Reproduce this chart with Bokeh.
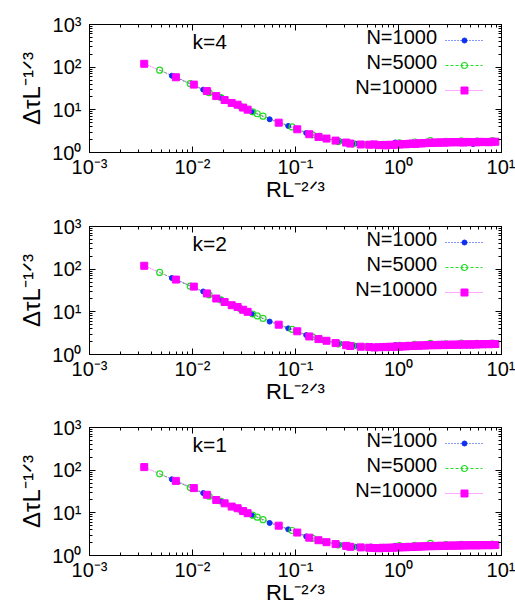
import math
from bokeh.plotting import figure
from bokeh.models import Label, FixedTicker, LogAxis
from bokeh.layouts import column
from bokeh.embed import file_html
from bokeh.resources import INLINE

FONT = "Liberation Sans"

panel_labels = ["k=4", "k=2", "k=1"]
series_names = ["N=1000", "N=5000", "N=10000"]
x_tick_exps = [-3, -2, -1, 0, 1]
y_tick_exps = [0, 1, 2, 3]
x_axis_title = "RL\u207b\u00b2\u141f\u00b3"
y_axis_title = "\u0394\u03c4L\u207b\u00b9\u141f\u00b3"

# N=1000 (blue)
x_n1000 = [0.0063, 0.0127, 0.0192, 0.0253, 0.0379, 0.0561, 0.0850, 0.127, 0.190, 0.269,
           0.38, 0.54, 0.76, 0.93, 1.32, 1.87, 2.65, 3.75, 5.3, 7.5]
y_n1000_k4 = [63, 29.7, 18.9, 14.0, 8.9, 6.0, 4.2, 2.87, 2.17, 1.84,
              1.62, 1.52, 1.50, 1.72, 1.62, 1.66, 1.70, 1.74, 1.58, 1.72]
y_n1000_k2 = [62, 30.0, 19.0, 14.2, 8.8, 5.9, 4.1, 2.85, 2.15, 1.80,
              1.60, 1.50, 1.52, 1.66, 1.60, 1.64, 1.80, 1.70, 1.62, 1.70]
y_n1000_k1 = [61, 29.0, 18.5, 13.8, 8.7, 5.8, 4.1, 2.80, 2.10, 1.78,
              1.60, 1.62, 1.50, 1.68, 1.62, 1.66, 1.72, 1.70, 1.66, 1.72]

# N=5000 (green)
x_n5000 = [0.0048, 0.0095, 0.0145, 0.0190, 0.0290, 0.0385, 0.0425, 0.0484, 0.0927, 0.146, 0.171,
           0.26, 0.36, 0.50, 0.72, 1.02, 1.44, 2.04, 2.88, 4.08, 5.77, 8.15]
y_n5000_k4 = [85, 41, 25.3, 19.3, 12.2, 9.0, 8.1, 7.1, 3.97, 2.6, 2.4,
              1.80, 1.60, 1.54, 1.55, 1.68, 1.76, 1.90, 1.82, 1.88, 1.84, 1.90]
y_n5000_k2 = [84, 40, 25.0, 19.0, 12.0, 8.9, 8.0, 7.0, 3.9, 2.6, 2.35,
              1.78, 1.62, 1.56, 1.55, 1.64, 1.74, 1.82, 1.78, 1.84, 1.82, 1.86]
y_n5000_k1 = [82, 39, 24.5, 18.7, 11.9, 8.8, 7.9, 6.9, 3.85, 2.55, 2.3,
              1.76, 1.58, 1.52, 1.56, 1.70, 1.74, 1.92, 1.80, 1.82, 1.80, 1.84]

# N=10000 (magenta)
x_n10000 = [0.0034, 0.0069, 0.0103, 0.0138, 0.0170, 0.0205, 0.0240, 0.0274, 0.0310, 0.0343,
            0.0687, 0.104, 0.136, 0.167, 0.200, 0.245, 0.31, 0.34, 0.43, 0.52,
            0.58, 0.64, 0.70, 0.76, 0.82, 0.88, 0.95, 1.02, 1.10, 1.18,
            1.27, 1.36, 1.46, 1.57, 1.69, 1.81, 1.95, 2.09, 2.25, 2.41,
            2.59, 2.78, 2.99, 3.21, 3.45, 3.70, 3.98, 4.27, 4.59, 4.93,
            5.29, 5.68, 6.10, 6.55, 7.04, 7.56, 8.12, 8.72]
y_n10000_k4 = [120, 58, 39, 27.5, 21.0, 17.0, 14.5, 13.2, 11.3, 10.1,
               5.0, 3.5, 2.68, 2.32, 2.12, 1.90, 1.71, 1.62, 1.54, 1.52,
               1.55, 1.49, 1.50, 1.47, 1.52, 1.50, 1.55, 1.53, 1.58, 1.56,
               1.60, 1.62, 1.59, 1.65, 1.63, 1.66, 1.70, 1.67, 1.72, 1.69,
               1.73, 1.70, 1.74, 1.72, 1.76, 1.73, 1.75, 1.71, 1.77, 1.74,
               1.76, 1.73, 1.78, 1.75, 1.77, 1.74, 1.78, 1.79]
y_n10000_k2 = [120, 57, 39, 27.0, 20.5, 17.0, 14.3, 13.0, 11.2, 10.0,
               5.0, 3.5, 2.65, 2.30, 2.10, 1.85, 1.65, 1.58, 1.52, 1.50,
               1.46, 1.48, 1.50, 1.49, 1.52, 1.51, 1.54, 1.52, 1.56, 1.55,
               1.60, 1.58, 1.62, 1.60, 1.64, 1.62, 1.66, 1.64, 1.68, 1.65,
               1.69, 1.66, 1.70, 1.68, 1.71, 1.69, 1.72, 1.70, 1.73, 1.70,
               1.74, 1.71, 1.75, 1.73, 1.76, 1.74, 1.77, 1.76]
y_n10000_k1 = [118, 56, 38, 26.5, 20.0, 16.7, 14.0, 12.8, 11.0, 9.8,
               5.0, 3.45, 2.62, 2.28, 2.05, 1.85, 1.68, 1.60, 1.55, 1.52,
               1.50, 1.48, 1.52, 1.50, 1.53, 1.52, 1.55, 1.54, 1.57, 1.56,
               1.60, 1.58, 1.62, 1.61, 1.64, 1.63, 1.66, 1.65, 1.68, 1.66,
               1.70, 1.67, 1.71, 1.69, 1.72, 1.70, 1.73, 1.71, 1.74, 1.72,
               1.75, 1.72, 1.75, 1.73, 1.76, 1.74, 1.75, 1.76]

panel_data = [
    (y_n1000_k4, y_n5000_k4, y_n10000_k4),
    (y_n1000_k2, y_n5000_k2, y_n10000_k2),
    (y_n1000_k1, y_n5000_k1, y_n10000_k1),
]
x_series = [x_n1000, x_n5000, x_n10000]

colors = ["#1030f0", "#22dd22", "#ff00ff"]
line_colors = ["#1030f0", "#22dd22", "#ff55ff"]
dashes = ["1 2", "3 2", "1 1"]

SUP = {"-": "\u207b", "0": "\u2070", "1": "\u00b9", "2": "\u00b2", "3": "\u00b3"}


def pow10_label(e):
    return "10" + "".join(SUP[c] for c in str(e))


# layout (pixels)
LEFT, RIGHT = 89, 14
FRAME_W, FRAME_H = 412, 128
tops = [24, 22, 21]
bottoms = [52, 52, 55]
BFIX = 7  # baseline correction (px)

XMIN_E, XMAX_E = -3, 1
YMIN_E, YMAX_E = 0, 3


def px_to_x(px):
    return 10 ** (XMIN_E + (XMAX_E - XMIN_E) * px / FRAME_W)


def px_to_y(py_from_top):
    return 10 ** (YMAX_E - (YMAX_E - YMIN_E) * py_from_top / FRAME_H)


def add_text(p, text, x, y, size, align="left"):
    p.add_layout(Label(x=x, y=y, x_units="screen", y_units="screen", text=text,
                       text_font=FONT, text_font_size=f"{size}px",
                       text_align=align, text_baseline="alphabetic",
                       text_color="black"))


x_major = [10.0 ** e for e in x_tick_exps]
x_minor = [m * 10.0 ** e for e in x_tick_exps[:-1] for m in range(2, 10)]
y_major = [10.0 ** e for e in y_tick_exps]
y_minor = [m * 10.0 ** e for e in y_tick_exps[:-1] for m in range(2, 10)]


def style_axis(ax, major, minor, exps=None):
    ax.ticker = FixedTicker(ticks=major, minor_ticks=minor)
    ax.major_tick_in = 6
    ax.major_tick_out = 0
    ax.minor_tick_in = 3
    ax.minor_tick_out = 0
    ax.axis_line_color = "black"
    ax.major_tick_line_color = "black"
    ax.minor_tick_line_color = "black"
    if exps is None:
        ax.major_label_overrides = {v: "" for v in major}
        ax.major_label_text_font_size = "0px"
    else:
        ax.major_label_overrides = {v: pow10_label(e) for v, e in zip(major, exps)}
        ax.major_label_text_font = FONT
        ax.major_label_text_font_size = "20px"
        ax.major_label_text_color = "black"


figs = []
for i in range(3):
    p = figure(frame_width=FRAME_W, frame_height=FRAME_H,
               x_axis_type="log", y_axis_type="log",
               x_range=(10.0 ** XMIN_E, 10.0 ** XMAX_E),
               y_range=(10.0 ** YMIN_E, 10.0 ** YMAX_E),
               min_border_left=LEFT, min_border_right=RIGHT,
               min_border_top=tops[i], min_border_bottom=bottoms[i],
               output_backend="svg", toolbar_location=None)
    p.grid.visible = False
    p.outline_line_color = "black"
    p.background_fill_color = "white"
    p.border_fill_color = "white"
    xa = p.xaxis[0]
    ya = p.yaxis[0]
    style_axis(xa, x_major, x_minor, x_tick_exps)
    style_axis(ya, y_major, y_minor, y_tick_exps)
    xa.major_label_standoff = 3
    ya.major_label_standoff = 8
    xa.axis_label = x_axis_title
    ya.axis_label = y_axis_title
    for ax, fs in ((xa, "22px"), (ya, "24px")):
        ax.axis_label_text_font = FONT
        ax.axis_label_text_font_size = fs
        ax.axis_label_text_font_style = "normal"
        ax.axis_label_text_color = "black"
    xa.axis_label_standoff = -4
    ya.axis_label_standoff = 4
    top_ax = LogAxis()
    right_ax = LogAxis()
    style_axis(top_ax, x_major, x_minor)
    style_axis(right_ax, y_major, y_minor)
    p.add_layout(top_ax, "above")
    p.add_layout(right_ax, "right")

    ys = panel_data[i]
    for s in range(3):
        p.line(x_series[s], ys[s], line_color=line_colors[s], line_dash=dashes[s],
               line_width=1)
    p.scatter(x_series[0], ys[0], marker="circle", size=5, fill_color=colors[0],
              line_color=colors[0])
    p.scatter(x_series[1], ys[1], marker="circle", size=6, fill_color=None,
              line_color=colors[1], line_width=1.2)
    p.scatter(x_series[2], ys[2], marker="square", size=7, fill_color=colors[2],
              line_color=colors[2])

    # panel label
    add_text(p, panel_labels[i], 103, FRAME_H - 24 + BFIX, 21)

    # legend
    rows = [16, 41, 66]
    for s in range(3):
        ry = rows[s]
        add_text(p, series_names[s], 347.5, FRAME_H - ry - 3 + BFIX, 20, align="right")
        yy = px_to_y(ry)
        p.line([px_to_x(356), px_to_x(393)], [yy, yy], line_color=line_colors[s],
               line_dash=dashes[s], line_width=1)
    ry = px_to_y(rows[0])
    p.scatter([px_to_x(375)], [ry], marker="circle", size=5, fill_color=colors[0],
              line_color=colors[0])
    ry = px_to_y(rows[1])
    p.scatter([px_to_x(375)], [ry], marker="circle", size=6, fill_color=None,
              line_color=colors[1], line_width=1.2)
    ry = px_to_y(rows[2])
    p.scatter([px_to_x(375)], [ry], marker="square", size=7, fill_color=colors[2],
              line_color=colors[2])
    figs.append(p)

layout = column(*figs, spacing=0)
open("out.html", "w").write(file_html(layout, INLINE))
